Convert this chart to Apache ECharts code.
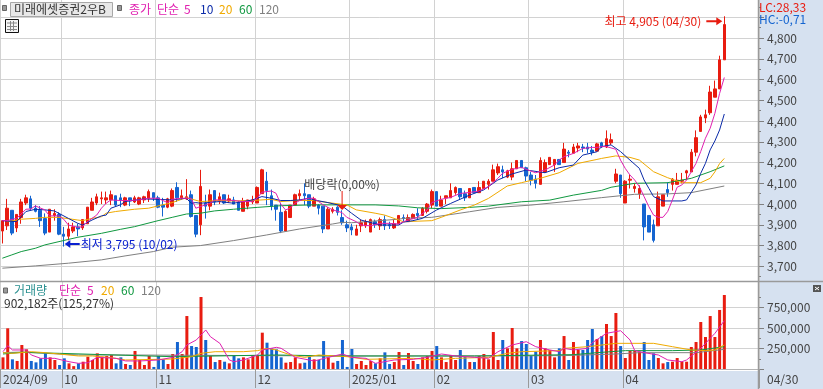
<!DOCTYPE html>
<html><head><meta charset="utf-8">
<style>html,body{margin:0;padding:0;background:#fff}#c{width:823px;height:389px}</style>
<script src="https://cdn.jsdelivr.net/npm/echarts@6/dist/echarts.min.js"></script>
</head><body><div id="c"></div>
<script>
const monthLabels=['2024/09','10','11','12','2025/01','02','03','04'];
const monthStarts=[0,13,33,54,74,92,112,132];
const slotCount=161;
const opens=[3870,3895,3970,3885,3935,4005,4025,3980,3970,3930,
3865,3945,3950,3855,3845,3870,3890,3885,3905,3970,
4005,4025,4020,4020,4040,4030,3995,4030,4010,4000,
4020,4025,4055,4030,3995,3985,3990,4080,4030,4025,
4045,3945,3900,4005,3990,4065,4015,4045,4015,4020,
4010,3965,3990,4010,4005,4050,4110,4040,3995,3960,
3870,3935,3995,4040,4050,4045,3990,3995,3990,3880,
3965,3985,3935,3900,3890,3850,3895,3895,3865,3915,
3895,3925,3900,3885,3905,3935,3915,3930,3955,3945,
3965,3995,4060,3990,4030,4030,4055,4075,4050,4030,
4080,4055,4075,4095,4110,4150,4165,4130,4130,4170,
4210,4175,4140,4120,4095,4155,4190,4190,4215,4200,
4250,4245,4270,4275,4275,4260,4255,4295,4275,4295,
4110,4140,4005,4115,4075,4050,4000,3945,3900,3895,
3990,4070,4095,4095,4110,4150,4155,4250,4350,4415,
4440,4515,4555,4695];
const closes=[3920,3980,3860,3950,4010,4030,3980,3965,3920,3860,
3975,3955,3855,3845,3880,3890,3880,3925,3985,4010,
4035,4030,4030,4045,3995,4020,4030,4015,4030,4030,
4035,4060,4030,3985,3985,4025,4065,4030,4040,4035,
3940,3855,4085,3990,4045,4010,4035,4005,4025,4000,
3970,4015,4020,4020,4080,4165,4065,3990,3975,3870,
3965,3995,4045,4050,4040,3990,4025,3980,3880,3975,
3975,3960,3910,3885,3875,3880,3910,3915,3925,3900,
3925,3895,3895,3905,3945,3930,3935,3950,3945,3980,
4000,4060,3990,4020,4040,4065,4080,4035,4030,4075,
4055,4080,4110,4110,4165,4180,4155,4160,4170,4210,
4175,4135,4115,4100,4210,4200,4225,4215,4190,4265,
4245,4275,4280,4270,4265,4250,4290,4275,4315,4310,
4145,4050,4110,4120,4085,4075,3890,3865,3825,4035,
4045,4055,4120,4115,4115,4160,4250,4320,4420,4430,
4540,4555,4695,4865];
const lows=[3810,3875,3850,3865,3905,3995,3970,3960,3890,3850,
3865,3920,3850,3795,3825,3860,3845,3875,3905,3970,
3995,4000,4000,3995,3990,3985,3990,3990,4005,3995,
4005,4010,4015,3980,3940,3980,3985,4010,4020,4020,
3935,3840,3850,3930,3970,3995,4000,4000,4005,4000,
3970,3965,3975,4000,4005,4050,3995,3970,3920,3860,
3870,3935,3995,4020,3995,3980,3990,3950,3860,3880,
3955,3945,3900,3865,3850,3850,3865,3885,3865,3885,
3875,3875,3880,3880,3905,3915,3915,3930,3925,3945,
3955,3980,3990,3990,4000,4030,4045,4020,4015,4030,
4055,4055,4075,4070,4110,4140,4125,4125,4115,4170,
4175,4110,4090,4075,4095,4150,4190,4155,4190,4200,
4225,4245,4250,4250,4245,4235,4255,4270,4270,4285,
4100,4030,4005,4075,4055,4025,3825,3865,3815,3895,
3990,4035,4065,4095,4100,4115,4155,4230,4350,4390,
4430,4515,4555,4695];
const highs=[3920,4025,3970,3950,4025,4045,4040,3995,3990,3955,
3975,3975,3960,3890,3910,3910,3905,3925,3985,4030,
4050,4060,4060,4065,4040,4050,4035,4030,4040,4035,
4040,4070,4055,4040,4030,4030,4075,4105,4070,4120,
4065,3945,4165,4045,4070,4065,4055,4045,4045,4035,
4015,4030,4020,4040,4085,4170,4155,4070,3995,4005,
3970,3995,4050,4070,4100,4045,4035,4000,3990,3985,
3985,3990,3970,3920,3905,3900,3925,3925,3930,3925,
3935,3945,3915,3925,3945,3950,3950,3955,3980,3985,
4005,4070,4060,4040,4040,4100,4085,4075,4065,4075,
4080,4110,4110,4120,4190,4195,4185,4165,4200,4210,
4210,4180,4155,4140,4225,4215,4225,4215,4215,4295,
4260,4290,4295,4290,4295,4280,4295,4300,4355,4340,
4170,4140,4115,4140,4100,4090,4000,3945,3925,4060,
4045,4105,4125,4150,4150,4165,4265,4355,4430,4455,
4570,4595,4715,4905];
const volumesThousand=[142,496,118,98,293,240,98,81,130,191,
142,110,49,130,69,35,69,89,150,110,
191,150,159,171,69,142,61,49,220,110,
49,159,25,159,118,61,183,329,183,646,
280,268,878,354,159,85,110,89,69,159,
130,142,118,159,159,443,321,252,240,142,
77,85,142,69,77,150,118,110,341,142,
77,98,354,25,244,61,98,49,98,69,
130,203,61,85,207,49,195,98,61,142,
159,220,280,142,85,171,110,232,150,85,
85,159,183,118,451,110,354,252,500,252,
341,305,159,211,354,252,232,142,252,402,
110,329,232,232,354,488,366,402,549,402,
683,280,134,220,220,211,329,110,191,134,
69,85,89,134,89,89,268,329,573,390,
646,390,720,902.182];
// moving averages: [candle index, value]
const ma5=[[0,3920],[1,3920],[3,3931],[5,3975],[6,3976],[7,3991],[9,3972],[10,3943],[12,3943],[13,3927],[14,3899],[16,3888],[17,3891],[18,3915],[20,3947],[21,3980],[22,4004],[23,4020],[25,4017],[27,4017],[29,4020],[31,4028],[33,4028],[34,4017],[35,4007],[36,4023],[38,4028],[40,4028],[41,3980],[42,3988],[43,3996],[44,4004],[45,4020],[47,4020],[49,4017],[51,4012],[53,4012],[54,4028],[55,4057],[57,4063],[58,4052],[59,4000],[60,3972],[61,3980],[62,4004],[63,4017],[65,4028],[66,4028],[67,4012],[68,3996],[70,3972],[72,3959],[73,3936],[75,3915],[76,3899],[78,3895],[80,3907],[82,3907],[84,3904],[85,3915],[86,3923],[88,3936],[90,3971],[91,4007],[93,4023],[95,4032],[97,4051],[99,4056],[101,4063],[103,4084],[105,4124],[106,4148],[108,4167],[110,4177],[112,4159],[113,4151],[115,4164],[117,4188],[118,4212],[119,4228],[121,4244],[123,4268],[125,4273],[126,4273],[127,4277],[128,4277],[130,4264],[131,4212],[132,4172],[133,4140],[134,4116],[135,4084],[136,4036],[137,3988],[138,3947],[139,3936],[140,3936],[141,3964],[142,4020],[143,4081],[144,4092],[145,4116],[146,4156],[147,4196],[148,4253],[149,4317],[150,4365],[151,4437],[152,4533],[153,4610]];
const ma10=[[0,3920],[3,3915],[5,3964],[7,3975],[9,3972],[11,3967],[14,3931],[16,3907],[17,3899],[19,3923],[21,3943],[22,3947],[23,3980],[25,3996],[26,4012],[30,4025],[36,4020],[39,4028],[40,4004],[41,4007],[42,4004],[46,4012],[49,4004],[53,4020],[55,4036],[57,4028],[59,4017],[61,4017],[63,4020],[65,4028],[66,4020],[69,4007],[72,3991],[74,3956],[76,3923],[80,3899],[84,3899],[85,3913],[87,3920],[89,3931],[92,3971],[95,4003],[99,4043],[102,4068],[105,4116],[108,4145],[111,4164],[115,4151],[118,4175],[121,4188],[123,4236],[126,4252],[127,4277],[129,4285],[131,4253],[133,4212],[135,4172],[136,4116],[137,4076],[138,4036],[140,4015],[144,4015],[145,4020],[147,4092],[148,4148],[149,4196],[150,4261],[151,4304],[152,4357],[153,4434]];
const ma20=[[1,3915],[4,3927],[7,3931],[9,3936],[12,3936],[16,3923],[17,3920],[19,3931],[21,3939],[22,3956],[24,3964],[28,3975],[31,3980],[33,3991],[36,4007],[39,4031],[42,4012],[46,4017],[49,4015],[53,4017],[57,4023],[59,4012],[62,4017],[66,4017],[69,4007],[73,3996],[75,3972],[79,3956],[81,3947],[84,3923],[85,3915],[91,3920],[93,3936],[97,3971],[100,3995],[103,4027],[107,4087],[110,4103],[114,4124],[118,4151],[122,4196],[126,4215],[127,4220],[130,4232],[133,4225],[135,4212],[138,4156],[141,4127],[144,4103],[148,4103],[150,4124],[151,4155],[152,4195],[153,4220]];
const ma60=[[0,3739],[2,3755],[4,3771],[7,3787],[9,3803],[12,3819],[16,3840],[21,3859],[25,3878],[28,3891],[33,3920],[36,3936],[39,3952],[42,3956],[45,3967],[49,3975],[54,3984],[59,3992],[66,3996],[79,3996],[84,3991],[88,3982],[93,3978],[99,3984],[103,3990],[110,4011],[116,4019],[121,4043],[127,4066],[129,4081],[134,4100],[141,4103],[146,4124],[150,4156],[153,4184]];
const ma120=[[0,3691],[7,3702],[14,3715],[21,3731],[26,3750],[32,3771],[36,3792],[42,3800],[49,3824],[56,3851],[63,3880],[70,3904],[72,3912],[74,3910],[84,3927],[85,3931],[91,3936],[99,3963],[105,3984],[112,3995],[119,4011],[127,4031],[134,4047],[141,4049],[146,4055],[153,4087]];
const volMa5=[[0,211],[1,285],[2,232],[4,232],[5,232],[6,171],[8,130],[11,130],[14,89],[16,69],[18,77],[20,142],[24,130],[26,98],[29,98],[33,110],[36,142],[38,211],[39,293],[41,354],[43,476],[44,394],[46,313],[48,110],[49,89],[51,110],[54,171],[55,232],[58,264],[59,252],[62,142],[66,98],[69,142],[72,183],[74,142],[77,130],[79,69],[83,110],[87,118],[90,142],[93,183],[96,159],[100,142],[103,130],[105,211],[108,293],[111,333],[113,272],[116,232],[118,211],[119,252],[121,232],[124,252],[125,321],[128,435],[131,467],[133,354],[134,224],[136,199],[139,171],[141,110],[144,89],[145,110],[148,252],[151,435],[153,589]];
const volMa20=[[0,199],[2,191],[6,211],[9,199],[16,159],[19,159],[23,138],[26,110],[33,118],[36,122],[40,150],[42,191],[45,211],[51,211],[54,224],[56,252],[58,232],[59,211],[61,171],[64,142],[67,171],[73,150],[77,118],[87,130],[91,110],[96,130],[103,142],[107,191],[110,211],[118,224],[119,252],[124,272],[130,313],[138,313],[142,272],[146,232],[149,224],[151,232],[153,293]];
const volMa60=[[0,183],[4,203],[12,191],[36,150],[58,171],[70,159],[100,159],[121,175],[126,199],[132,224],[142,224],[148,232],[153,272]];
const volMa120=[[0,199],[4,207],[9,191],[16,171],[26,171],[70,159],[84,159],[100,159],[119,163],[130,183],[135,199],[147,199],[153,240]];
const priceMajor=[3700,3800,3900,4000,4100,4200,4300,4400,4500,4600,4700,4800,4900];
const priceLabels=[3700,3800,3900,4000,4100,4200,4300,4400,4500,4600,4700,4800];
const priceMinor=[3650,3750,3850,3950,4050,4150,4250,4350,4450,4550,4650,4750,4850,4950];
const volMajor=[0,250000,500000,750000];
const volLabels=[250000,500000,750000];
const volMinor=[125000,375000,625000,875000];
const lastDateLabel='04/30';

const RED='#e81c10',BLUE='#1464d0',MAG='#e020b0',NAVY='#0a2aa8',ORG='#f0aa00',GRN='#109840',GRY='#808080',TXT='#444',BAND='#d6e1f0',LINE='#d2d2d2',AX='#9a9a9a';
const FONT='"Noto Sans CJK KR","Liberation Sans",sans-serif';
const categories=[];
{let m=0;for(let i=0;i<slotCount;i++){if(m+1<monthStarts.length&&i>=monthStarts[m+1])m++;categories.push(monthLabels[m]+'#'+i);}}
const isMonthStart=i=>monthStarts.includes(i);
const monthLabel=v=>v.split('#')[0];
const candles=opens.map((o,i)=>[o,closes[i],lows[i],highs[i]]);
const volumes=volumesThousand.map((v,i)=>({value:Math.round(v*1000),itemStyle:{color:closes[i]>=opens[i]?RED:BLUE}}));
const scaled=a=>a.map(p=>[p[0],p[1]*1000]);
const fmt=v=>Number(v).toLocaleString('en-US');
const T=(x,y,text,fill,size)=>({type:'text',x,y,z:20,silent:true,style:{text,fill,font:(size||12)+'px '+FONT,verticalAlign:'middle',textVerticalAlign:'middle'}});
const R=(x,y,w,h,fill,stroke,z)=>({type:'rect',silent:true,z:z===undefined?20:z,shape:{x,y,width:w,height:h},style:{fill:fill||'transparent',stroke:stroke||null,lineWidth:1}});
const L=(x1,y1,x2,y2,stroke,w,z)=>({type:'line',silent:true,z:z||15,shape:{x1,y1,x2,y2},style:{stroke,lineWidth:w||1}});
const GL=-0.2,GW=759.9,OFF=-1.7;
const line=(name,data,color,xi,yi)=>({name,type:'line',data,xAxisIndex:xi,yAxisIndex:yi,symbol:'none',showSymbol:false,smooth:false,lineStyle:{color,width:1},silent:true,z:3,animation:false});
const xBase=g=>({type:'category',gridIndex:g,data:categories,boundaryGap:true,
  axisLine:{show:false},axisTick:{show:false},axisLabel:{show:false},
  splitLine:{show:true,interval:i=>isMonthStart(i),lineStyle:{color:LINE,width:1}}});
const option={
 animation:false,backgroundColor:'#fff',
 grid:[{left:GL,top:0,width:GW,height:281},{left:GL,top:282,width:GW,height:87}],
 xAxis:[xBase(0),Object.assign(xBase(1),{
   axisLine:{show:true,lineStyle:{color:'#b4b4b4',width:1}},
   axisTick:{show:true,length:19,interval:i=>isMonthStart(i),lineStyle:{color:AX,width:1}},
   axisLabel:{show:true,interval:i=>isMonthStart(i),formatter:v=>monthLabel(v),align:'left',margin:4,color:TXT,fontSize:12,fontFamily:FONT}})],
 yAxis:[
  {type:'value',gridIndex:0,position:'right',offset:OFF,min:3629.2,max:4983.4,scale:true,
   axisLine:{show:false},axisTick:{show:true,length:6,inside:false,customValues:priceMajor,lineStyle:{color:GRY}},
   axisLabel:{show:true,customValues:priceLabels,margin:9,color:TXT,fontSize:12,fontFamily:FONT,formatter:fmt},
   splitLine:{show:true,lineStyle:{color:LINE,width:1}}},
  {type:'value',gridIndex:0,position:'right',offset:OFF,min:3629.2,max:4983.4,scale:true,
   axisLine:{show:false},axisTick:{show:true,length:3,customValues:priceMinor,lineStyle:{color:GRY}},
   axisLabel:{show:false},splitLine:{show:false}},
  {type:'value',gridIndex:1,position:'right',offset:OFF,min:0,max:1061000,
   axisLine:{show:false},axisTick:{show:true,length:6,customValues:volMajor,lineStyle:{color:GRY}},
   axisLabel:{show:true,customValues:volLabels,margin:9,color:TXT,fontSize:12,fontFamily:FONT,formatter:fmt},
   splitLine:{show:true,lineStyle:{color:LINE,width:1}}},
  {type:'value',gridIndex:1,position:'right',offset:OFF,min:0,max:1061000,
   axisLine:{show:false},axisTick:{show:true,length:3,customValues:volMinor,lineStyle:{color:GRY}},
   axisLabel:{show:false},splitLine:{show:false}}
 ],
 series:[
  {name:'종가',type:'candlestick',xAxisIndex:0,yAxisIndex:0,data:candles,barWidth:3,z:2,silent:true,
   itemStyle:{color:RED,color0:BLUE,borderColor:RED,borderColor0:BLUE,borderColorDoji:RED,borderWidth:1},
   markPoint:{silent:true,animation:false,data:[
    {coord:[153,4905],symbol:'path://M0,3 L10,3 L10,0 L16,4 L10,8 L10,5 L0,5 Z',symbolSize:[16,8],symbolOffset:[-10,5],symbolKeepAspect:false,
     itemStyle:{color:RED},label:{show:true,position:'left',distance:5,formatter:'최고 4,905 (04/30)',color:RED,fontSize:12,fontFamily:FONT}},
    {coord:[13,3795],symbol:'path://M16,3 L6,3 L6,0 L0,4 L6,8 L6,5 L16,5 Z',symbolSize:[15,8],symbolOffset:[8.5,-2.6],
     itemStyle:{color:'#0a20d0'},label:{show:true,position:'right',distance:1,formatter:'최저 3,795 (10/02)',color:'#0a20d0',fontSize:12,fontFamily:FONT}},
    {coord:[72,4063],symbol:'path://M4.5,0 L5.5,0 L5.5,14 L10,14 L5,19 L0,14 L4.5,14 Z',symbolSize:[10,19],symbolOffset:[0,9.5],
     itemStyle:{color:RED},label:{show:true,position:'top',distance:1,formatter:'배당락(0,00%)',color:TXT,fontSize:12,fontFamily:FONT}}
   ]}},
  line('MA120',ma120,GRY,0,0),line('MA60',ma60,GRN,0,0),line('MA20',ma20,ORG,0,0),line('MA10',ma10,NAVY,0,0),line('MA5',ma5,MAG,0,0),
  {name:'거래량',type:'bar',xAxisIndex:1,yAxisIndex:2,data:volumes,barWidth:3,z:2,silent:true},
  line('vMA120',scaled(volMa120),GRY,1,2),line('vMA60',scaled(volMa60),GRN,1,2),line('vMA20',scaled(volMa20),ORG,1,2),line('vMA5',scaled(volMa5),MAG,1,2)
 ],
 graphic:{elements:[
  R(758,0,65,389,BAND,null,-1),R(0,371,758,18,BAND,null,-1),
  L(758.5,0,758.5,389,AX,1.5),L(0,281.5,823,281.5,AX,1.5),
  R(2.5,5.5,4,5,'#9a9a9a','#666'),
  R(10.5,2.5,102,14,'#e8e8e8','#a8a8a8'),
  T(14,9.5,'미래에셋증권2우B','#333'),
  R(117.5,5.5,4,5,'#9a9a9a','#666'),
  T(129,9.5,'종가',MAG),T(157,9.5,'단순',MAG),T(184,9.5,'5',MAG),T(200,9.5,'10',NAVY),T(219,9.5,'20',ORG),T(239,9.5,'60',GRN),T(259,9.5,'120',GRY),
  R(5.5,19.5,13,13,'#f4f4f4','#111'),L(7,23,17,23,'#888',1,21),L(7,26.5,17,26.5,'#888',1,21),L(7,29.5,17,29.5,'#888',1,21),L(10.5,21,10.5,31,'#888',1,21),L(13.5,21,13.5,31,'#888',1,21),
  R(3.5,288,4,5,'#9a9a9a','#666'),
  T(14,290.5,'거래량','#2a9090'),T(59,290.5,'단순',MAG),T(87,290.5,'5',MAG),T(101,290.5,'20',ORG),T(121,290.5,'60',GRN),T(141,290.5,'120',GRY),
  T(4,303.5,'902,182주(125,27%)','#333'),
  T(759,7,'LC:28,33',RED),T(759,19.5,'HC:-0,71',BLUE),
  T(767,379.5,lastDateLabel,TXT),
  R(813,285,8,7,'#555',null),L(815,287,819,290,'#fff',1,21),L(819,287,815,290,'#fff',1,21)
 ]}
};
const chart=echarts.init(document.getElementById('c'),null,{renderer:'canvas',width:823,height:389});
chart.setOption(option);
</script></body></html>
